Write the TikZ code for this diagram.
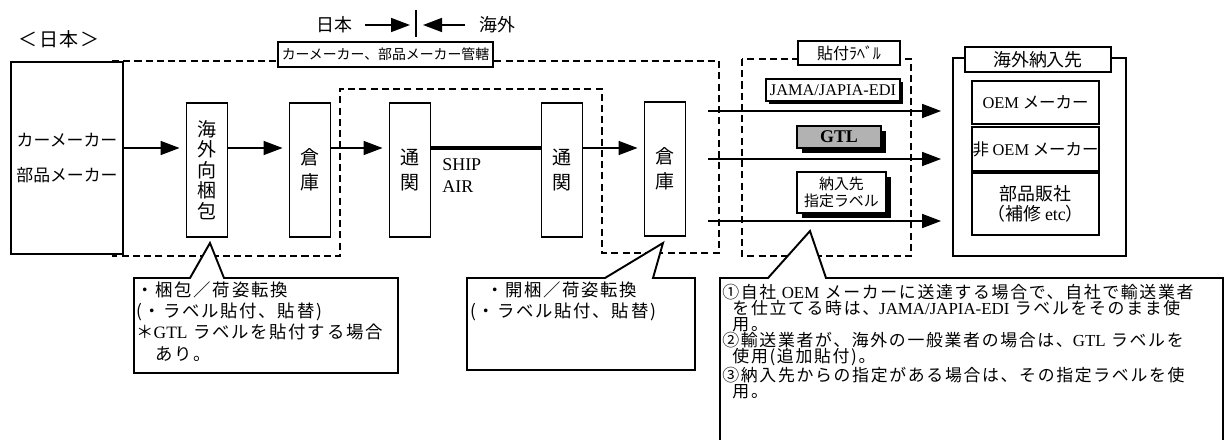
\documentclass[tikz,border=0pt]{standalone}
\usepackage{fontspec}
\setmainfont{Liberation Serif}
\newfontfamily\jp{Noto Sans CJK JP}
\newfontfamily\jpw[LetterSpace=10]{Noto Sans CJK JP}
\usetikzlibrary{arrows.meta,shadows}
\newcommand{\en}[1]{{\rmfamily #1}}
\tikzset{
  jp/.style 2 args={font=\jp\fontsize{#1}{#2}\selectfont},
  jpw/.style 2 args={font=\jpw\fontsize{#1}{#2}\selectfont},
  box/.style={draw, line width=1.1pt, fill=white, align=center},
  vbox/.style={box, minimum width=0.82cm, minimum height=2.68cm, jp={10.8}{11.7}},
  tag/.style={box, line width=1pt},
  shade/.style={drop shadow={shadow xshift=#1, shadow yshift=-#1, fill=black, opacity=1}},
  zone/.style={line width=1.1pt, dash pattern=on 4pt off 2.4pt},
  arr/.style={line width=0.9pt, -{Triangle[length=0.38cm,width=0.28cm]}},
  note/.style={draw, line width=1.1pt, fill=white},
}
\begin{document}
\begin{tikzpicture}[x=0.02cm, y=-0.02cm, inner sep=0pt]
\useasboundingbox (0,0) rectangle (1229,439);
\clip (0,0) rectangle (1229,439);
% zones
\draw[zone] (112,61) -- (719,61) -- (719,253) -- (602,253) -- (602,89) -- (340,89) -- (340,256) -- (112,256);
\draw[zone] (742,59) rectangle (911,256);
\node[tag, minimum width=4.3cm, minimum height=0.5cm, jp={7.9}{9}] (ztitle) at (385.5,54.5) {カーメーカー、部品メーカー管轄};
\node[tag, minimum width=2.04cm, minimum height=0.48cm, jp={9.1}{10}] (ltitle) at (849,53) {貼付ﾗﾍﾞﾙ};

% top labels
\node[jpw={10.8}{12}] (home) at (59,39) {＜日本＞};
\node[jp={10.2}{11}] (jpn) at (334,25) {日本};
\node[jp={10.2}{11}] (ovs) at (497,25) {海外};
\coordinate (bd) at (416,25);
\draw[arr, shorten <=0.26cm, shorten >=0.12cm] (jpn.east) -- (bd);
\draw[arr, shorten <=0.28cm, shorten >=0.14cm] (ovs.west) -- (bd);
\draw[line width=1.1pt] (bd) ++(0,-15) -- ++(0,27);

% flow
\node[box, minimum width=2.24cm, minimum height=3.84cm, jp={9.6}{19.8}] (maker) at (67,158) {カーメーカー\\部品メーカー};
\node[vbox] (pack) at (207,170) {海\\外\\向\\梱\\包};
\node[vbox, jp={10.8}{14}] (wh1) at (310,170) {倉\\庫};
\node[vbox, jp={10.8}{14}] (cc1) at (410,170) {通\\関};
\node[vbox, jp={10.8}{14}] (cc2) at (562,170) {通\\関};
\node[vbox, jp={10.8}{14}] (wh2) at (665,169) {倉\\庫};
\node[anchor=west, align=left, font=\rmfamily\fontsize{10.2}{12.5}\selectfont] (ship) at (442,176) {SHIP\\AIR};
\coordinate (row) at (0,148);
\foreach \a/\b in {maker/pack, pack/wh1, wh1/cc1, cc2/wh2}
  \draw[arr, shorten >=0.12cm] (\a.east |- row) -- (\b.west |- row);
\draw[line width=2.4pt] (cc1.east |- row) -- (cc2.west |- row);

% labels
\node[tag, shade=0.06cm, minimum width=2.68cm, minimum height=0.44cm, font=\rmfamily\fontsize{9.3}{10}\selectfont] (jama) at (833,90) {JAMA/JAPIA-EDI};
\node[tag, shade=0.1cm, fill=black!30, minimum width=1.68cm, minimum height=0.44cm, font=\rmfamily\bfseries\fontsize{10.2}{11}\selectfont] (gtl) at (839,137) {GTL};
\node[tag, shade=0.1cm, minimum width=1.78cm, minimum height=0.82cm, jp={8.5}{9.6}] (dlbl) at (841.5,192.5) {納入先\\指定ラベル};

% destinations
\node[box, minimum width=3.46cm, minimum height=3.96cm] (dest) at (1039.5,157) {};
\node[tag, minimum width=2.92cm, minimum height=0.5cm, jp={10.2}{11}] (dtitle) at (1038,59.5) {海外納入先};
\node[tag, minimum width=2.54cm, minimum height=0.86cm, jp={9.35}{10}] (oem) at (1035.5,102.5) {\en{OEM} メーカー};
\node[tag, minimum width=2.54cm, minimum height=0.88cm, jp={9.35}{10}] (noem) at (1035.5,149) {非 \en{OEM} メーカー};
\node[tag, minimum width=2.54cm, minimum height=1.24cm, jp={10.2}{11.3}] (parts) at (1035.5,204) {部品販社\\（補修 \en{etc}）};
\coordinate (a1) at (708,111);
\coordinate (a2) at (708,159);
\coordinate (a3) at (708,221);
\foreach \c in {a1,a2,a3}
  \draw[arr, shorten >=0.22cm] (\c) -- (dest.west |- \c);

% notes
\draw[note] (134,278) -- (190,278) -- (210,243) -- (224,278) -- (398,278) -- (398,373) -- (134,373) -- cycle;
\node[anchor=north west, align=left, jpw={9.9}{12.2}] (note1) at (136,281)
  {・梱包／荷姿転換\\(・ラベル貼付、貼替)\\＊\en{GTL} ラベルを貼付する場合\\\hspace*{1.1em}あり。};
\draw[note] (467,278) -- (605,278) -- (663,243) -- (653,278) -- (695,278) -- (695,370) -- (467,370) -- cycle;
\node[anchor=north west, align=left, jpw={9.9}{12.2}] (note2) at (470,281)
  {\hspace*{0.9em}・開梱／荷姿転換\\(・ラベル貼付、貼替)};
\draw[note] (720,278) -- (768,278) -- (810,231) -- (826,278) -- (1223,278) -- (1223,450) -- (720,450) -- cycle;
\node[anchor=north west, align=left, jpw={9.6}{9.1}] (note3) at (722,284)
  {①自社 \en{OEM} メーカーに送達する場合で、自社で輸送業者\\
   \hspace*{0.6em}を仕立てる時は、\en{JAMA/JAPIA-EDI} ラベルをそのまま使\\
   \hspace*{0.6em}用。\\
   ②輸送業者が、海外の一般業者の場合は、\en{GTL} ラベルを\\
   \hspace*{0.6em}使用(追加貼付)。\\
   ③納入先からの指定がある場合は、その指定ラベルを使\\
   \hspace*{0.6em}用。};
\end{tikzpicture}
\end{document}
